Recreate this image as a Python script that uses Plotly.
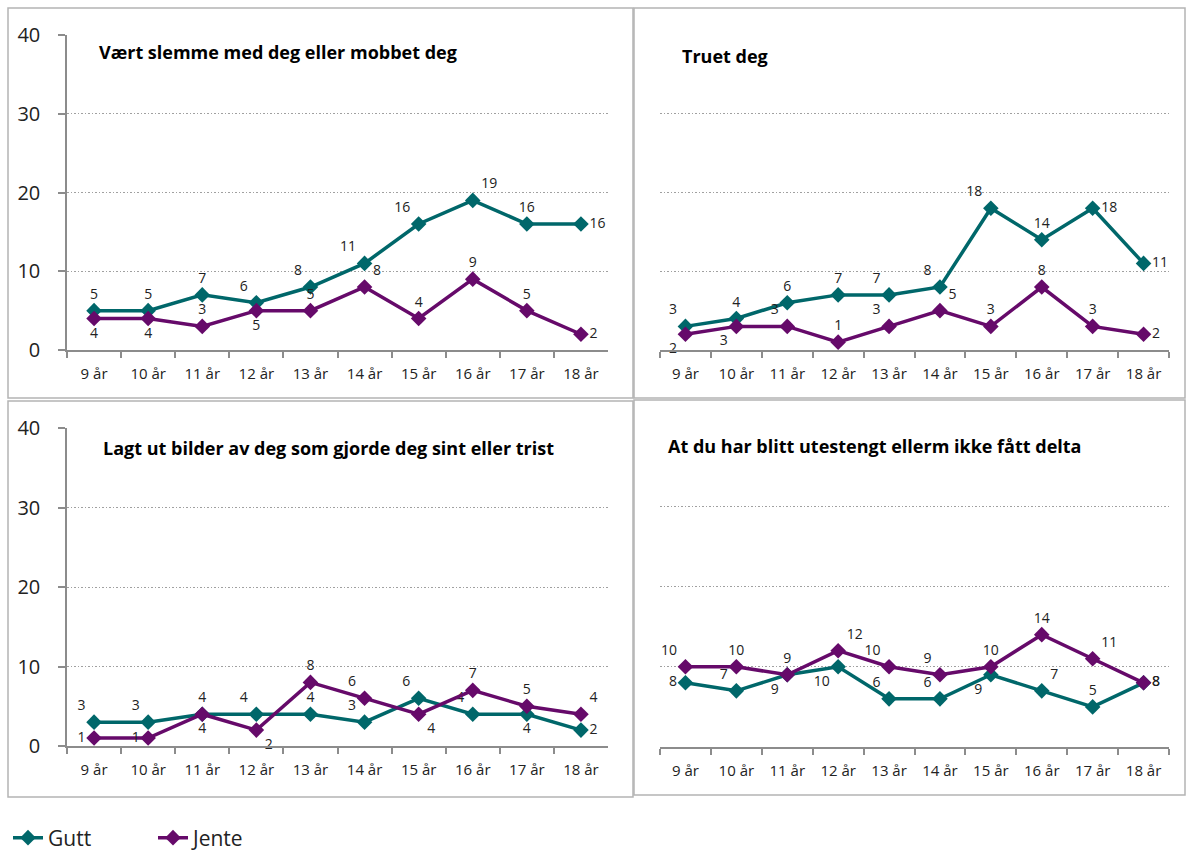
import plotly.graph_objects as go

categories = ["9 år", "10 år", "11 år", "12 år", "13 år", "14 år", "15 år", "16 år", "17 år", "18 år"]

titles = [
    "Vært slemme med deg eller mobbet deg",
    "Truet deg",
    "Lagt ut bilder av deg som gjorde deg sint eller trist",
    "At du har blitt utestengt ellerm ikke fått delta",
]

gutt_mobbet = [5, 5, 7, 6, 8, 11, 16, 19, 16, 16]
jente_mobbet = [4, 4, 3, 5, 5, 8, 4, 9, 5, 2]

gutt_truet = [3, 4, 6, 7, 7, 8, 18, 14, 18, 11]
jente_truet = [2, 3, 3, 1, 3, 5, 3, 8, 3, 2]

gutt_bilder = [3, 3, 4, 4, 4, 3, 6, 4, 4, 2]
jente_bilder = [1, 1, 4, 2, 8, 6, 4, 7, 5, 4]

gutt_utestengt = [8, 7, 9, 10, 6, 6, 9, 7, 5, 8]
jente_utestengt = [10, 10, 9, 12, 10, 9, 10, 14, 11, 8]

series_names = ["Gutt", "Jente"]

# ---- styling ----
W, H = 1187, 852
TEAL = "#00676A"
PURPLE = "#660A6A"
FONT = "Open Sans, sans-serif"
TXT = "#222222"

# label placements (style)
pos = [
    (["top center", "top center", "top center", "top left", "top left", "top left", "top left", "top right", "top center", "middle right"],
     ["bottom center", "bottom center", "top center", "bottom center", "top center", "top right", "top center", "top center", "top center", "middle right"]),
    (["top left", "top center", "top center", "top center", "top left", "top left", "top left", "top center", "middle right", "middle right"],
     ["bottom left", "bottom left", "top left", "top center", "top left", "top right", "top center", "top center", "top center", "middle right"]),
    (["top left", "top left", "top center", "top left", "top center", "top left", "top left", "top left", "bottom center", "middle right"],
     ["middle left", "middle left", "bottom center", "bottom right", "top center", "top left", "bottom right", "top center", "top center", "top right"]),
    (["middle left", "top left", "bottom left", "bottom left", "top left", "top left", "bottom left", "top right", "top center", "middle right"],
     ["top left", "top center", "top center", "top right", "top left", "top left", "top center", "top center", "top right", "middle right"]),
]

def px_x(x):
    return x / W

def px_y(y):
    return 1 - y / H

# plot area pixel boxes: (x0, x1, y_top(40), y_bottom(0))
areas = [
    (67, 608, 35, 350),
    (660, 1169, 35, 350),
    (67, 608, 428, 746),
    (660, 1169, 426, 747),
]
show_y = [True, False, True, False]

data = [
    (gutt_mobbet, jente_mobbet),
    (gutt_truet, jente_truet),
    (gutt_bilder, jente_bilder),
    (gutt_utestengt, jente_utestengt),
]

fig = go.Figure()
layout = {}
for i, ((g, j), (pg, pj)) in enumerate(zip(data, pos)):
    n = "" if i == 0 else str(i + 1)
    for vals, name, color, tp in [(g, series_names[0], TEAL, pg), (j, series_names[1], PURPLE, pj)]:
        fig.add_trace(go.Scatter(
            x=categories, y=vals, name=name,
            mode="lines+markers+text",
            text=[str(v) for v in vals], textposition=tp,
            textfont=dict(family=FONT, size=14, color=TXT),
            line=dict(color=color, width=3.5),
            marker=dict(symbol="diamond", size=12, color=color),
            xaxis="x" + n, yaxis="y" + n,
            legendgroup=name, showlegend=(i == 0),
            cliponaxis=False,
        ))
    x0, x1, yt, yb = areas[i]
    layout["xaxis" + n] = dict(
        domain=[px_x(x0), px_x(x1)], anchor="y" + n,
        type="category", range=[-0.5, 9.5],
        tickson="boundaries", ticks="outside", ticklen=6, tickcolor="#8c8c8c", tickwidth=1.5,
        showline=True, linecolor="#8c8c8c", linewidth=1.5,
        showgrid=False, zeroline=False,
        tickfont=dict(family=FONT, size=15, color=TXT),
        ticklabelstandoff=9,
        automargin=False,
        fixedrange=True,
    )
    layout["yaxis" + n] = dict(
        domain=[px_y(yb), px_y(yt)], anchor="x" + n,
        range=[0, 40], dtick=10, tick0=0,
        showgrid=True, gridcolor="#a0a0a0", griddash="1.5px,2px", gridwidth=1,
        zeroline=False,
        showline=show_y[i], linecolor="#8c8c8c", linewidth=1.5,
        ticks="outside" if show_y[i] else "", ticklen=7, tickcolor="#8c8c8c", tickwidth=1.5,
        showticklabels=show_y[i],
        tickfont=dict(family=FONT, size=20, color=TXT),
        ticklabelstandoff=14,
        automargin=False,
        fixedrange=True,
    )

fig.update_layout(**layout)

# panel titles
title_pos = [(97, 52), (680, 56), (101, 448), (666, 446)]
for t, (tx, ty) in zip(titles, title_pos):
    fig.add_annotation(
        x=px_x(tx), y=px_y(ty), xref="paper", yref="paper",
        text="<b>" + t + "</b>", showarrow=False,
        xanchor="left", yanchor="middle",
        font=dict(family=FONT, size=18, color="#000000"),
    )

# panel frames
frames = [(8, 8, 633, 398), (634, 8, 1185, 398), (8, 401, 633, 797), (634, 400, 1185, 795)]
for (a, b, c, d) in frames:
    fig.add_shape(type="rect", xref="paper", yref="paper",
                  x0=px_x(a), x1=px_x(c), y0=px_y(d), y1=px_y(b),
                  line=dict(color="#b4b4b4", width=1.5))

fig.update_layout(
    width=W, height=H,
    margin=dict(l=0, r=0, t=0, b=0, autoexpand=False),
    paper_bgcolor="white", plot_bgcolor="white",
    showlegend=True,
    legend=dict(
        orientation="h", xref="container", yref="container",
        x=px_x(8), y=px_y(838), xanchor="left", yanchor="middle",
        font=dict(family=FONT, size=21, color=TXT),
        entrywidth=100, entrywidthmode="pixels", tracegroupgap=0,
        bgcolor="rgba(0,0,0,0)",
    ),
)

fig.write_html(
    "out.html",
    config={"displayModeBar": False},
    post_script="document.body.style.margin='0px';document.body.style.overflow='hidden';",
)
